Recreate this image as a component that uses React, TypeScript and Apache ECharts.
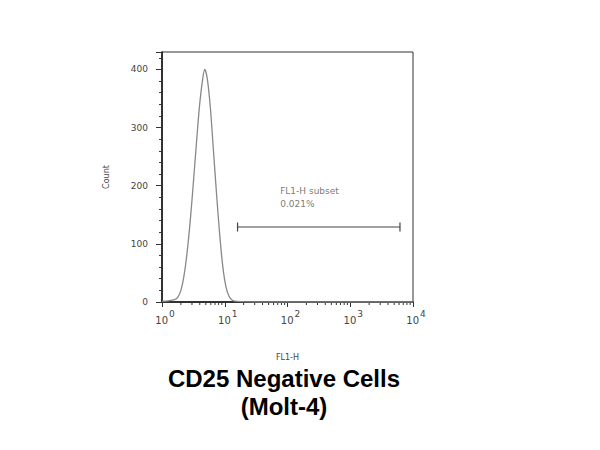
import React, { useEffect, useRef } from "react";
import * as echarts from "echarts";

// Histogram of FL1-H intensity (x, log scale) vs cell count
const histX = [1.0, 1.26, 1.58, 1.78, 2.0, 2.24, 2.51, 2.82, 3.16, 3.55, 3.98, 4.47, 4.79, 5.25, 5.89, 6.61, 7.41, 8.32, 9.33, 10.5, 11.7, 13.2, 15.8, 31.6, 100, 1000, 10000];
const histY = [1, 2, 4, 8, 20, 45, 85, 140, 205, 275, 340, 385, 400, 385, 335, 260, 185, 115, 60, 25, 10, 3, 1, 0, 0, 0, 0];

// Gate "FL1-H subset"
const gateX = [16, 6200];
const gateY = 129;
const gateLabel = "FL1-H subset\n0.021%";
const gateLabelPos = [75, 180];

// log-axis minor ticks
const minorTicks = [2, 3, 4, 5, 6, 7, 8, 9, 20, 30, 40, 50, 60, 70, 80, 90, 200, 300, 400, 500, 600, 700, 800, 900, 2000, 3000, 4000, 5000, 6000, 7000, 8000, 9000];

const titleLines = ["CD25 Negative Cells", "(Molt-4)"];
const xName = "FL1-H";
const yName = "Count";

export default function App() {
  const ref = useRef<HTMLDivElement>(null);
  useEffect(() => {
    const chart = echarts.init(ref.current!, null, { renderer: "svg" });
    const tickFont = "DejaVu Sans";
    chart.setOption({
      animation: false,
      backgroundColor: "#fff",
      title: {
        text: titleLines.join("\n"),
        left: 279,
        top: 359,
        textAlign: "center",
        textStyle: {
          fontFamily: "Liberation Sans, Arial",
          fontWeight: "bold",
          fontSize: 24,
          lineHeight: 28,
          color: "#000",
        },
      },
      grid: {
        left: 162,
        right: 187,
        top: 52,
        bottom: 148,
        show: true,
        borderColor: "#333",
        borderWidth: 1,
      },
      xAxis: {
        type: "log",
        logBase: 10,
        min: 1,
        max: 10000,
        name: xName,
        nameLocation: "middle",
        nameGap: 51,
        nameTextStyle: { fontFamily: tickFont, fontSize: 8, color: "#444" },
        axisLine: { lineStyle: { color: "#111", width: 1.5 } },
        axisTick: { show: true, length: 5, inside: false, lineStyle: { color: "#333" } },
        splitLine: { show: false },
        minorTick: { show: false },
        axisLabel: {
          margin: 7,
          formatter: (v: number) => `{b|10}{s|${Math.round(Math.log10(v))}}`,
          rich: {
            b: { fontFamily: tickFont, fontSize: 10, color: "#444", verticalAlign: "bottom", lineHeight: 16, padding: [0, 0, 0, 6] },
            s: { fontFamily: tickFont, fontSize: 9, color: "#444", verticalAlign: "top", lineHeight: 16, padding: [0, 0, 0, 1] },
          },
        },
      },
      yAxis: {
        type: "value",
        min: 0,
        max: 430,
        interval: 100,
        name: yName,
        nameLocation: "middle",
        nameGap: 52,
        nameRotate: 90,
        nameTextStyle: { fontFamily: tickFont, fontSize: 8, color: "#444" },
        axisLine: { show: true, lineStyle: { color: "#111", width: 1.5 } },
        axisTick: { show: true, length: 6, lineStyle: { color: "#333" } },
        minorTick: { show: true, splitNumber: 5, length: 3, lineStyle: { color: "#333" } },
        splitLine: { show: false },
        axisLabel: { fontFamily: tickFont, fontSize: 9, color: "#444", margin: 14, showMaxLabel: false },
      },
      series: [
        {
          type: "line",
          data: histX.map((x, i) => [x, histY[i]]),
          smooth: 0.3,
          showSymbol: false,
          lineStyle: { color: "#888", width: 1.3 },
          z: 3,
        },
        {
          type: "line",
          data: gateX.map((x) => [x, gateY]),
          symbol: "rect",
          symbolSize: [1.2, 9],
          showSymbol: true,
          itemStyle: { color: "#444" },
          lineStyle: { color: "#444", width: 1.2 },
          z: 4,
        },
        {
          type: "scatter",
          data: [gateLabelPos],
          symbolSize: 1,
          itemStyle: { color: "rgba(0,0,0,0)" },
          label: {
            show: true,
            formatter: gateLabel,
            position: "right",
            distance: 0,
            align: "left",
            verticalAlign: "middle",
            fontFamily: tickFont,
            fontSize: 9,
            lineHeight: 13,
            color: "#555",
          },
        },
        {
          type: "custom",
          clip: false,
          data: minorTicks.map((v) => [v, 0]),
          renderItem: (params: any, api: any) => {
            const p = api.coord([api.value(0), 0]);
            return {
              type: "line",
              shape: { x1: p[0], y1: p[1], x2: p[0], y2: p[1] + 3 },
              style: { stroke: "#333", lineWidth: 1 },
            };
          },
          z: 1,
        },
      ],
    });
    return () => chart.dispose();
  }, []);
  return (
    <div
      ref={ref}
      style={{ position: "absolute", left: 0, top: 0, width: 600, height: 450, background: "#fff" }}
    />
  );
}
